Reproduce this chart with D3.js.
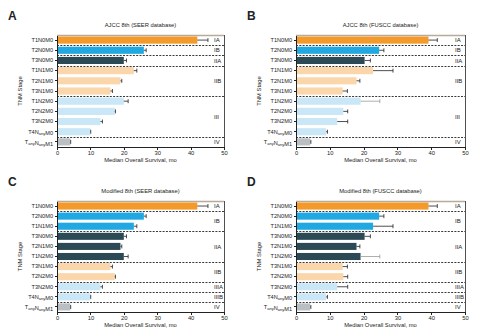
<!DOCTYPE html>
<html>
<meta charset="utf-8">
<style>
body { margin: 0; background: #fff; font-family: 'Liberation Sans', Arial, sans-serif; }
text { fill: #222; }
.axis path, .axis line { stroke: #222; shape-rendering: crispEdges; }
</style>
<body>
<script src="https://cdn.jsdelivr.net/npm/d3@7"></script>
<script>
var w = 480, h = 335;

// rows, ordered as in the AJCC 8th panels
var names = ["T1N0M0","T2N0M0","T3N0M0","T1N1M0","T2N1M0","T3N1M0","T1N2M0","T2N2M0","T3N2M0","T4NanyM0","TanyNanyM1"];

// median OS and upper error (months), same order as names
var seerMedian = [42, 26, 20, 23, 19, 16, 20, 17.3, 13, 10, 4];
var seerUpper  = [45.2, 26.7, 20.8, 23.9, 19.4, 16.6, 21.3, 17.5, 13.6, 10.1, 4.1];
var fusccMedian = [39.2, 24.6, 20.3, 22.8, 17.9, 13.8, 19.1, 14, 12.2, 8.9, 4.2];
var fusccUpper  = [41.8, 26, 22, 28.7, 18.9, 15.2, 24.8, 15.3, 15.3, 9.3, 4.4];

// row order and stage in each system
var ajccOrder = ["T1N0M0","T2N0M0","T3N0M0","T1N1M0","T2N1M0","T3N1M0","T1N2M0","T2N2M0","T3N2M0","T4NanyM0","TanyNanyM1"];
var ajccStage = ["IA","IB","IIA","IIB","IIB","IIB","III","III","III","III","IV"];
var modOrder = ["T1N0M0","T2N0M0","T1N1M0","T3N0M0","T2N1M0","T1N2M0","T3N1M0","T2N2M0","T3N2M0","T4NanyM0","TanyNanyM1"];
var modStage = ["IA","IB","IB","IIA","IIA","IIA","IIB","IIB","IIIA","IIIB","IV"];

// error bars drawn in grey (FUSCC only)
var greyErr = ["T1N2M0"];

var xTicks = [0, 10, 20, 30, 40, 50];

var color = d3.scaleOrdinal()
    .domain(["IA","IB","IIA","IIB","III","IIIA","IIIB","IV"])
    .range(["#f39a2b","#1fa8e1","#2c4a56","#fbd6ab","#c9e7f6","#c9e7f6","#c9e7f6","#b9bfc3"]);

var panels = [
  {letter:"A", title:"AJCC 8th (SEER database)",    x0:57,  x1:224, y0:35,  y1:147, order:ajccOrder, stage:ajccStage, med:seerMedian,  up:seerUpper,  grey:false},
  {letter:"B", title:"AJCC 8th (FUSCC database)",   x0:296, x1:465, y0:35,  y1:147, order:ajccOrder, stage:ajccStage, med:fusccMedian, up:fusccUpper, grey:true},
  {letter:"C", title:"Modified 8th (SEER database)",  x0:57,  x1:224, y0:201, y1:312, order:modOrder,  stage:modStage,  med:seerMedian,  up:seerUpper,  grey:false},
  {letter:"D", title:"Modified 8th (FUSCC database)", x0:296, x1:465, y0:201, y1:312, order:modOrder,  stage:modStage,  med:fusccMedian, up:fusccUpper, grey:true}
];

var svg = d3.select("body").append("svg")
    .attr("width", w)
    .attr("height", h);

panels.forEach(function(p) {
  var g = svg.append("g");

  var x = d3.scaleLinear().domain([0, 50]).range([p.x0, p.x1]);
  var y = d3.scaleBand().domain(p.order).range([p.y0, p.y1]).paddingInner(0.3).paddingOuter(0.15);
  var step = y.step();
  var rows = p.order.map(function(n, i) {
    var k = names.indexOf(n);
    return {name: n, stage: p.stage[i], med: p.med[k], up: p.up[k]};
  });

  // panel letter and title
  g.append("text")
      .attr("x", p.x0 - 49)
      .attr("y", p.y0 - 15)
      .style("font-size", "12px")
      .style("font-weight", "bold")
      .text(p.letter);
  g.append("text")
      .attr("x", (p.x0 + p.x1) / 2)
      .attr("y", p.y0 - 8)
      .style("text-anchor", "middle")
      .style("font-size", "5.8px")
      .text(p.title);

  // frame top + right
  g.append("line").attr("x1", p.x0).attr("x2", p.x1).attr("y1", p.y0 + 0.5).attr("y2", p.y0 + 0.5)
      .style("stroke", "#b8ab98").style("stroke-width", 1.4);
  g.append("line").attr("x1", p.x1 + 0.5).attr("x2", p.x1 + 0.5).attr("y1", p.y0).attr("y2", p.y1)
      .style("stroke", "#222").style("stroke-width", 0.8);

  // bars
  g.selectAll(".bar")
      .data(rows)
      .enter()
      .append("rect")
      .attr("class", "bar")
      .attr("x", x(0))
      .attr("y", function(d) { return y(d.name); })
      .attr("width", function(d) { return x(d.med) - x(0); })
      .attr("height", y.bandwidth())
      .style("fill", function(d) { return color(d.stage); });

  // error bars (upper only)
  var err = g.selectAll(".err")
      .data(rows)
      .enter()
      .append("g")
      .style("stroke", function(d) { return (p.grey && greyErr.indexOf(d.name) >= 0) ? "#999" : "#222"; })
      .style("stroke-width", 0.8);
  err.append("line")
      .attr("x1", function(d) { return x(d.med); })
      .attr("x2", function(d) { return x(d.up); })
      .attr("y1", function(d) { return y(d.name) + y.bandwidth() / 2; })
      .attr("y2", function(d) { return y(d.name) + y.bandwidth() / 2; });
  err.append("line")
      .attr("x1", function(d) { return x(d.up); })
      .attr("x2", function(d) { return x(d.up); })
      .attr("y1", function(d) { return y(d.name) + y.bandwidth() / 2 - 2; })
      .attr("y2", function(d) { return y(d.name) + y.bandwidth() / 2 + 2; });

  // stage groups
  var groups = [];
  rows.forEach(function(d, i) {
    var last = groups[groups.length - 1];
    if (last && last.stage === d.stage) last.end = i;
    else groups.push({stage: d.stage, start: i, end: i});
  });
  groups.forEach(function(gr, i) {
    var yb = p.y0 + (gr.end + 1) * step;
    var yMid = p.y0 + (gr.start + gr.end + 1) / 2 * step;
    g.append("text")
        .attr("x", p.x1 - 10)
        .attr("y", yMid)
        .attr("dy", ".35em")
        .style("font-size", "6px")
        .text(gr.stage);
    if (i < groups.length - 1) {
      g.append("line")
          .attr("x1", p.x0).attr("x2", p.x1)
          .attr("y1", Math.round(yb) + 0.5).attr("y2", Math.round(yb) + 0.5)
          .style("stroke", "#222")
          .style("stroke-width", 0.9)
          .style("stroke-dasharray", "2,1.3");
    }
  });

  // x axis
  g.append("g")
      .attr("class", "axis")
      .attr("transform", "translate(0," + p.y1 + ")")
      .call(d3.axisBottom(x).tickValues(xTicks).tickSize(2.5).tickPadding(1.5))
      .selectAll("text")
      .style("font-size", "5.8px");
  g.append("text")
      .attr("x", (p.x0 + p.x1) / 2)
      .attr("y", p.y1 + 15)
      .style("text-anchor", "middle")
      .style("font-size", "5.8px")
      .text("Median Overall Survival, mo");

  // y axis with subscripted labels
  var yAxis = g.append("g")
      .attr("class", "axis")
      .attr("transform", "translate(" + p.x0 + ",0)")
      .call(d3.axisLeft(y).tickSize(2.5).tickPadding(1.5).tickSizeOuter(0));
  yAxis.selectAll("text")
      .style("font-size", "5.6px")
      .each(function(n) {
        var t = d3.select(this).text("");
        var parts = n.match(/T(any|\d)N(any|\d)M(\d)/);
        [["T", parts[1]], ["N", parts[2]], ["M", parts[3]]].forEach(function(pp) {
          t.append("tspan").text(pp[0]);
          if (pp[1] === "any") {
            t.append("tspan").attr("dy", "1.2px").style("font-size", "4px").text("any");
            t.append("tspan").attr("dy", "-1.2px").text("");
          } else {
            t.append("tspan").text(pp[1]);
          }
        });
      });

  g.append("text")
      .attr("transform", "translate(" + (p.x0 - 35) + "," + ((p.y0 + p.y1) / 2) + ") rotate(-90)")
      .style("text-anchor", "middle")
      .style("font-size", "5.8px")
      .text("TNM Stage");
});
</script>
</body>
</html>
